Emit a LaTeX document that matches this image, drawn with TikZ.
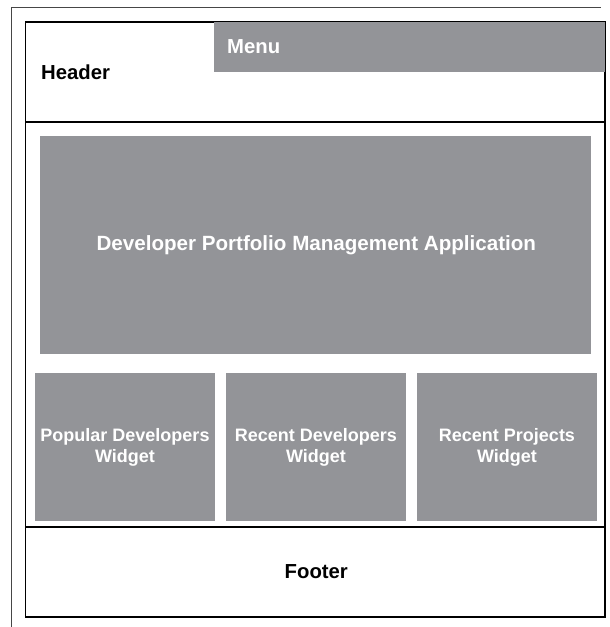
\documentclass[tikz,border=0pt]{standalone}
\usepackage{fontspec}
\setmainfont{Liberation Sans}
\definecolor{boxgray}{RGB}{147,148,152}
\definecolor{framegray}{RGB}{70,70,70}
\begin{document}
\begin{tikzpicture}[x=1pt,y=-1pt,
  grayfill/.style={fill=boxgray, draw=none, inner sep=0pt, text=white, font=\bfseries\fontsize{20.5}{24}\selectfont, align=center},
  widget/.style={grayfill, minimum width=180pt, minimum height=148pt, font=\bfseries\fontsize{18}{21}\selectfont},
  label/.style={font=\bfseries\fontsize{20.3}{24}\selectfont, inner sep=0pt, anchor=base},
  sepline/.style={line width=1.6pt, black},
  frame/.style={line width=1.1pt, black}
]
\useasboundingbox (0,0) rectangle (610,627);
% outer page edges
\coordinate (otl) at (11,7);
\coordinate (otr) at (600.5,7);
\coordinate (obl) at (11,627);
\draw[framegray, line width=1pt] (otr) -- (otl) -- (obl);
% inner frame
\coordinate (itl) at (25.7,22);
\coordinate (ibr) at (605,617);
\draw[frame] (itl) rectangle (ibr);
% menu
\node[grayfill, minimum width=391pt, minimum height=50pt, anchor=north west] (menu) at (214,22) {};
\node[label, anchor=base west, text=white] (menutext) at (227,53.3) {Menu};
% header
\node[label, anchor=base west] (header) at (41,79.3) {Header};
% separators
\coordinate (hl) at (25.7,122);
\coordinate (hr) at (605,122);
\draw[sepline] (hl) -- (hr);
\coordinate (fl) at (25.7,527);
\coordinate (fr) at (605,527);
\draw[sepline] (fl) -- (fr);
% main app
\node[grayfill, minimum width=551pt, minimum height=218pt] (app) at (315.5,245) {};
\node[label, text=white, font=\bfseries\fontsize{20.6}{24}\selectfont] (apptext) at (316.3,250) {Developer Portfolio Management Application};
% widgets
\node[widget] (w1) at (125,447) {Popular Developers\\Widget};
\node[widget] (w2) at (316,447) {Recent Developers\\Widget};
\node[widget] (w3) at (507,447) {Recent Projects\\Widget};
% footer
\node[label] (footer) at (316.3,578) {Footer};
\end{tikzpicture}
\end{document}
